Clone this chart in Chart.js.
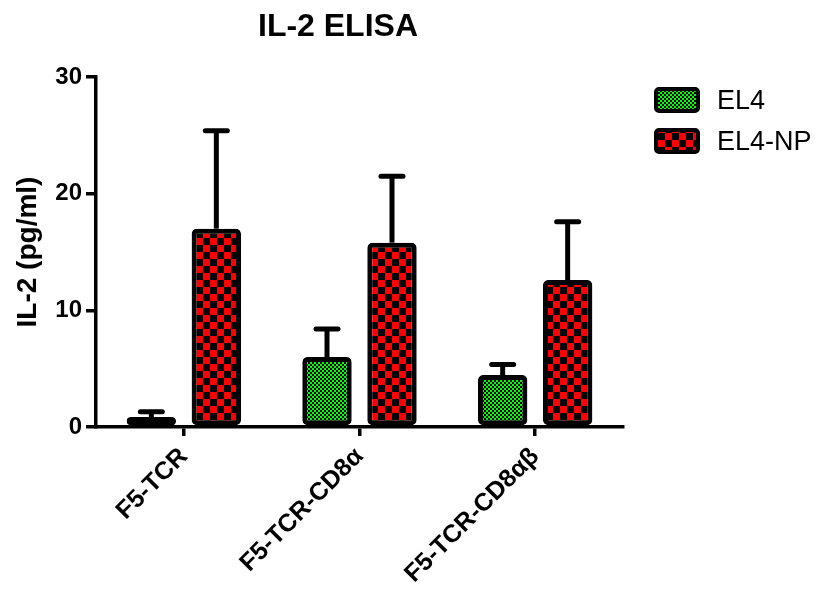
<!DOCTYPE html>
<html>
<head>
<meta charset="utf-8">
<script src="https://cdn.jsdelivr.net/npm/chart.js@4.4.0/dist/chart.umd.min.js"></script>
<style>
  body { margin: 0; background: #fff; }
  #wrap { width: 817px; height: 593px; }
</style>
</head>
<body>
<div id="wrap"><canvas id="myChart" width="817" height="593"></canvas></div>
<script>
// values
const cells = ["F5-TCR", "F5-TCR-CD8α", "F5-TCR-CD8αβ"];
const seriesNames = ["EL4", "EL4-NP"];
const el4 = [0.85, 6.0, 4.45];
const el4Err = [0.45, 2.4, 0.9];
const el4np = [17.0, 15.8, 12.6];
const el4npErr = [8.4, 5.7, 5.0];
const yTicks = [0, 10, 20, 30];

const FONT = "'Liberation Sans', Arial, sans-serif";

// checker patterns like the prism fills
function makePattern(cell, color) {
    const c = document.createElement("canvas");
    c.width = cell * 2;
    c.height = cell * 2;
    const g = c.getContext("2d");
    g.fillStyle = "#000";
    g.fillRect(0, 0, c.width, c.height);
    g.fillStyle = color;
    g.fillRect(0, 0, cell, cell);
    g.fillRect(cell, cell, cell, cell);
    return g.createPattern(c, "repeat");
}

const ctx = document.querySelector("#myChart").getContext("2d");
const greenFill = makePattern(2, "#00ff00");
const redFill = makePattern(7, "#ff0000");

const errors = [el4Err, el4npErr];

const extras = {
    id: "extras",
    afterDatasetsDraw(chart) {
        const c = chart.ctx;
        const yScale = chart.scales.y;
        c.save();
        c.strokeStyle = "#000";
        c.lineWidth = 5;
        chart.data.datasets.forEach(function (ds, i) {
            const meta = chart.getDatasetMeta(i);
            meta.data.forEach(function (bar, j) {
                const top = yScale.getPixelForValue(ds.data[j] + errors[i][j]);
                c.beginPath();
                c.moveTo(bar.x, bar.y);
                c.lineTo(bar.x, top);
                c.stroke();
                c.beginPath();
                c.lineCap = "round";
                c.moveTo(bar.x - 11, top);
                c.lineTo(bar.x + 11, top);
                c.stroke();
                c.lineCap = "butt";
            });
        });
        c.restore();
    },
    afterDraw(chart) {
        const c = chart.ctx;
        c.save();
        // title
        c.fillStyle = "#000";
        c.font = "bold 32px " + FONT;
        c.textAlign = "center";
        c.textBaseline = "alphabetic";
        c.fillText("IL-2 ELISA", 338, 36);
        // legend
        c.font = "27px " + FONT;
        c.textAlign = "left";
        c.textBaseline = "middle";
        chart.data.datasets.forEach(function (ds, i) {
            const cy = 100 + i * 41;
            c.fillStyle = ds.backgroundColor;
            c.fillRect(656, cy - 11, 42, 22);
            c.strokeStyle = "#000";
            c.lineWidth = 4;
            c.beginPath();
            c.roundRect(656, cy - 11, 42, 22, 3);
            c.stroke();
            c.fillStyle = "#000";
            c.fillText(ds.label, 717, cy + 2);
        });
        c.restore();
    },
};

new Chart(ctx, {
    type: "bar",
    data: {
        labels: cells,
        datasets: [
            {
                label: seriesNames[0],
                data: el4,
                backgroundColor: greenFill,
                borderColor: "#000",
                borderWidth: 5,
                borderRadius: 5,
                borderSkipped: false,
                categoryPercentage: 0.74,
                barPercentage: 0.76,
            },
            {
                label: seriesNames[1],
                data: el4np,
                backgroundColor: redFill,
                borderColor: "#000",
                borderWidth: 5,
                borderRadius: 5,
                borderSkipped: false,
                categoryPercentage: 0.74,
                barPercentage: 0.76,
            },
        ],
    },
    options: {
        responsive: false,
        animation: false,
        layout: { padding: { top: 77, right: 194, left: 0, bottom: 0 } },
        plugins: {
            legend: { display: false },
            title: { display: false },
            tooltip: { enabled: false },
        },
        scales: {
            x: {
                afterFit: function (s) { s.height = 166; },
                border: { color: "#000", width: 3.5 },
                grid: { offset: false, drawOnChartArea: false, color: "#000", lineWidth: 3.5, tickLength: 9 },
                ticks: {
                    color: "#000",
                    font: { family: FONT, size: 25, weight: "bold" },
                    minRotation: 45,
                    maxRotation: 45,
                    padding: 6,
                },
            },
            y: {
                min: 0,
                max: 30,
                afterFit: function (s) { s.width = 96; },
                afterBuildTicks: function (s) { s.ticks = yTicks.map(function (v) { return { value: v }; }); },
                border: { color: "#000", width: 3.5 },
                grid: { drawOnChartArea: false, color: "#000", lineWidth: 3.5, tickLength: 10 },
                ticks: {
                    color: "#000",
                    font: { family: FONT, size: 24, weight: "bold" },
                    padding: 4,
                },
                title: {
                    display: true,
                    text: "IL-2 (pg/ml)",
                    color: "#000",
                    font: { family: FONT, size: 28, weight: "bold" },
                    padding: { top: 11, bottom: 0 },
                },
            },
        },
    },
    plugins: [extras],
});
</script>
</body>
</html>
